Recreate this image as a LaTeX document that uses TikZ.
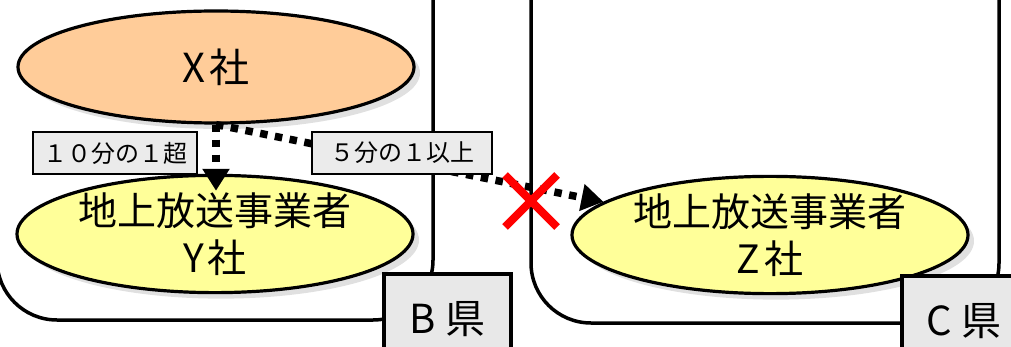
\documentclass[tikz,border=0pt]{standalone}
\usepackage{fontspec}
\setmainfont{Noto Sans CJK JP}
\usetikzlibrary{shapes.geometric,shapes.misc,shadows,arrows.meta,calc}
\begin{document}
\begin{tikzpicture}[x=1pt,y=-1pt,
  region/.style={draw=black,line width=3.5pt,rounded corners=60pt},
  company/.style={ellipse,draw=black,line width=3.2pt,minimum width=396pt,minimum height=112pt,inner sep=0pt,align=center,
    drop shadow={shadow xshift=6pt,shadow yshift=-6pt,fill=black!12,opacity=1}},
  lbl/.style={draw=black,line width=2.2pt,fill=black!8,minimum height=42pt,inner sep=0pt,font=\fontsize{24}{28}\selectfont},
  prefbox/.style={draw=black,line width=3.5pt,fill=black!9,anchor=north west,minimum height=90pt,inner sep=0pt,font=\fontsize{40}{42}\selectfont},
  dotarrow/.style={line width=7.5pt,dash pattern=on 7.5pt off 7.5pt,-{Triangle[length=22pt,width=26pt]}},
  crossmark/.style={cross out,draw=red,line width=8pt,minimum size=44pt,inner sep=0pt}]
\useasboundingbox (0,0) rectangle (1011,347);
\clip (0,0) rectangle (1011,347);
\draw[region] (-3,-80) rectangle (433,320);
\draw[region] (531,-80) rectangle (999,323);
\node[company,fill={rgb,255:red,255;green,204;blue,153},font=\fontsize{40}{48}\selectfont] (X) at (216,67) {X\hspace{4pt}社};
\node[company,fill={rgb,255:red,255;green,255;blue,153},font=\fontsize{39}{47}\selectfont] (Y) at (215,234) {地上放送事業者\\Y\hspace{4pt}社};
\node[company,fill={rgb,255:red,255;green,255;blue,153},font=\fontsize{39}{47}\selectfont] (Z) at (770,235) {地上放送事業者\\Z\hspace{4pt}社};
\draw[dotarrow] (X.south) -- ($(X.south |- Y.north)+(0,17)$);
\draw[dotarrow] (X.south) -- (Z);
\node[lbl,minimum width=164pt] (L1) at (115,153) {１０分の１超};
\node[lbl,minimum width=180pt] (L2) at (402,153) {５分の１以上};
\node[prefbox,minimum width=127pt] (B) at (382,272) {B\hspace{10pt}県};
\node[prefbox,minimum width=124pt] (C) at (900,274) {C\hspace{10pt}県};
\node[crossmark] (cross) at (531,201) {};
\end{tikzpicture}
\end{document}
